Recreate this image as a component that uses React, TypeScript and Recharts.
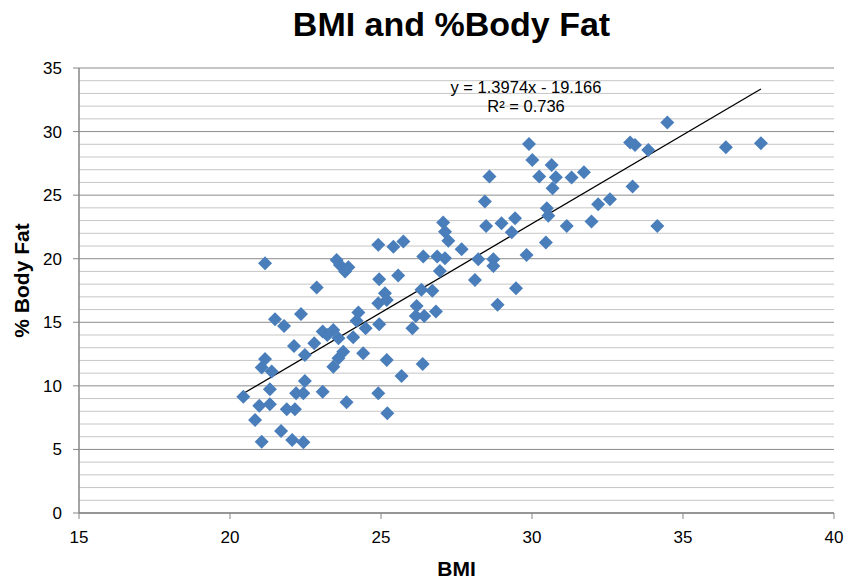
import {
  ScatterChart,
  Scatter,
  XAxis,
  YAxis,
  CartesianGrid,
  ReferenceLine,
  Label,
} from 'recharts'

// BMI vs % body fat
const bmi = [
  20.44, 20.97, 20.83, 21.32, 21.05, 21.16, 21.16, 21.05, 21.38, 21.32,
  21.49, 21.79, 22.35, 22.12, 22.48, 22.79, 22.87, 22.48, 22.19, 22.43,
  21.88, 22.15, 21.69, 22.06, 22.43, 23.07, 23.07, 23.42, 23.22, 23.59,
  23.42, 23.59, 23.75, 23.86, 23.53, 23.64, 23.81, 23.92, 24.08, 24.25,
  24.19, 24.49, 24.41, 24.94, 25.57, 25.13, 24.91, 25.19, 24.94, 25.19,
  25.68, 24.91, 25.21, 24.91, 25.41, 25.74, 28.44, 30.49, 30.54, 29.44,
  28.99, 28.48, 29.33, 31.15, 27.06, 27.12, 27.23, 27.67, 26.4, 26.86,
  27.12, 26.95, 28.22, 28.72, 28.72, 29.82, 30.46, 28.11, 29.47, 26.34,
  26.7, 26.18, 26.15, 26.43, 26.82, 26.04, 28.86, 26.38, 34.48, 33.25,
  33.41, 33.85, 29.9, 30.01, 30.65, 30.24, 30.79, 30.68, 31.31, 31.72,
  28.59, 33.33, 32.58, 32.19, 31.97, 34.15, 36.42, 37.58,
]
const bodyFat = [
  9.15, 8.44, 7.32, 8.55, 5.61, 19.65, 12.12, 11.44, 11.12, 9.73,
  15.24, 14.71, 15.66, 13.14, 12.43, 13.35, 17.73, 10.39, 9.42, 9.42,
  8.16, 8.16, 6.45, 5.74, 5.56, 9.54, 14.27, 14.4, 14.0, 13.74,
  11.51, 12.17, 12.69, 8.71, 19.9, 19.5, 18.99, 19.33, 13.82, 15.76,
  15.13, 14.53, 12.56, 18.39, 18.67, 17.28, 16.5, 16.76, 14.85, 12.04,
  10.78, 9.42, 7.84, 21.09, 20.95, 21.35, 24.5, 23.97, 23.37, 23.19,
  22.79, 22.58, 22.08, 22.58, 22.84, 22.13, 21.42, 20.75, 20.18, 20.18,
  20.04, 19.04, 19.96, 19.96, 19.43, 20.3, 21.27, 18.33, 17.68, 17.55,
  17.49, 16.29, 15.5, 15.5, 15.84, 14.53, 16.37, 11.72, 30.71, 29.14,
  28.95, 28.56, 29.03, 27.77, 27.38, 26.46, 26.41, 25.54, 26.38, 26.8,
  26.46, 25.68, 24.68, 24.29, 22.93, 22.58, 28.77, 29.09,
]

const bmiTicks = [15, 20, 25, 30, 35, 40]
const fatTicks = [0, 5, 10, 15, 20, 25, 30, 35]
// minor gridlines between the labelled ticks
const fatMinorTicks = [
  1, 2, 3, 4, 6, 7, 8, 9, 11, 12, 13, 14, 16, 17, 18, 19,
  21, 22, 23, 24, 26, 27, 28, 29, 31, 32, 33, 34,
]

// linear trend line as printed on the chart
const slope = 1.3974
const intercept = -19.166
const rSquared = '0.736'

const points = bmi.map((b, i) => ({ bmi: b, fat: bodyFat[i] }))
const minBmi = Math.min(...bmi)
const maxBmi = Math.max(...bmi)

const FONT = '"Liberation Sans", Arial, Helvetica, sans-serif'
const BLUE = '#4A7EBB'
const AXIS = '#868686'

const Diamond = (props: any) => {
  const { cx, cy } = props
  const r = 7
  return (
    <polygon
      points={`${cx},${cy - r} ${cx + r},${cy} ${cx},${cy + r} ${cx - r},${cy}`}
      fill={BLUE}
    />
  )
}

const YTitle = (props: any) => {
  const { viewBox } = props
  const x = viewBox.x + 21
  const y = viewBox.y + viewBox.height / 2 - 10
  return (
    <text
      x={x}
      y={y}
      transform={`rotate(-90, ${x}, ${y})`}
      textAnchor="middle"
      dy="0.36em"
      fontSize={21}
      fontWeight="bold"
      fill="#000"
    >
      % Body Fat
    </text>
  )
}

const eqStyle = {
  position: 'absolute' as const,
  left: 426,
  width: 200,
  textAlign: 'center' as const,
  fontSize: 16.5,
  lineHeight: '16px',
  whiteSpace: 'nowrap' as const,
}

export default function App() {
  return (
    <div
      style={{
        position: 'absolute',
        left: 0,
        top: 0,
        width: 847,
        height: 579,
        background: '#fff',
        fontFamily: FONT,
      }}
    >
      <div
        style={{
          position: 'absolute',
          left: 0,
          top: 7,
          width: 903,
          textAlign: 'center',
          fontSize: 34,
          lineHeight: '34px',
          fontWeight: 'bold',
          whiteSpace: 'nowrap',
        }}
      >
        BMI and %Body Fat
      </div>
      <ScatterChart
        width={847}
        height={579}
        margin={{ top: 68, right: 13, bottom: 0, left: 0 }}
      >
        <CartesianGrid vertical={false} stroke="#8c8c8c" />
        {fatMinorTicks.map((v) => (
          <ReferenceLine key={v} y={v} stroke="#c6c6c6" />
        ))}
        <XAxis
          type="number"
          dataKey="bmi"
          domain={[15, 40]}
          ticks={bmiTicks}
          height={66}
          tickSize={6}
          tickMargin={12}
          tick={{ fontSize: 17, fill: '#000' }}
          tickLine={{ stroke: AXIS }}
          axisLine={{ stroke: AXIS, strokeWidth: 1.5 }}
        >
          <Label
            value="BMI"
            position="insideBottom"
            offset={3}
            style={{ fontSize: 21, fontWeight: 'bold', fill: '#000' }}
          />
        </XAxis>
        <YAxis
          type="number"
          dataKey="fat"
          domain={[0, 35]}
          ticks={fatTicks}
          width={79}
          tickSize={6}
          tickMargin={11}
          tick={{ fontSize: 17, fill: '#000' }}
          tickLine={{ stroke: AXIS }}
          axisLine={{ stroke: AXIS, strokeWidth: 1.5 }}
        >
          <Label content={<YTitle />} />
        </YAxis>
        <Scatter
          data={points}
          shape={<Diamond />}
          isAnimationActive={false}
        />
        <ReferenceLine
          segment={[
            { x: minBmi, y: slope * minBmi + intercept },
            { x: maxBmi, y: slope * maxBmi + intercept },
          ]}
          stroke="#000"
          strokeWidth={1.3}
          ifOverflow="visible"
        />
      </ScatterChart>
      <div style={{ ...eqStyle, top: 79 }}>
        y = {slope}x - {Math.abs(intercept)}
      </div>
      <div style={{ ...eqStyle, top: 97.5 }}>R² = {rSquared}</div>
    </div>
  )
}
